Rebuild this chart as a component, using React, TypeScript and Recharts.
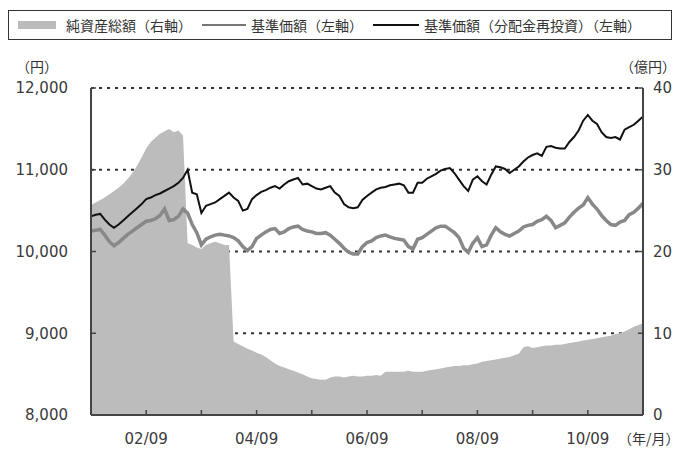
import React from 'react';
import { ComposedChart, Area, Line, XAxis, YAxis, CartesianGrid } from 'recharts';

// monthly points, starting 2001/09 (index 0) through 2011/09 (index 120)
// 純資産総額 (億円, right axis)
const netAssets = [
  25.7, 26.0, 26.3, 26.6, 27.0, 27.4, 27.8, 28.3, 28.9, 29.6,
  30.5, 31.5, 32.6, 33.4, 33.9, 34.4, 34.7, 35.0, 34.6, 34.8,
  34.2, 21.0, 20.8, 20.5, 20.3, 20.8, 21.0, 21.2, 21.0, 20.8,
  20.8, 9.0, 8.7, 8.4, 8.1, 7.9, 7.6, 7.4, 7.1, 6.7,
  6.3, 6.0, 5.8, 5.6, 5.4, 5.2, 5.0, 4.7, 4.5, 4.4,
  4.3, 4.3, 4.6, 4.7, 4.7, 4.6, 4.7, 4.8, 4.7, 4.7,
  4.8, 4.8, 4.9, 4.8, 5.3, 5.3, 5.3, 5.3, 5.3, 5.4,
  5.3, 5.3, 5.3, 5.4, 5.5, 5.6, 5.7, 5.8, 5.9, 6.0,
  6.0, 6.1, 6.1, 6.2, 6.3, 6.5, 6.6, 6.7, 6.8, 6.9,
  7.0, 7.1, 7.3, 7.5, 8.3, 8.4, 8.2, 8.3, 8.4, 8.5,
  8.5, 8.6, 8.6, 8.7, 8.8, 8.9, 9.0, 9.1, 9.2, 9.3,
  9.4, 9.5, 9.6, 9.7, 9.9, 10.0, 10.2, 10.5, 10.8, 11.0,
  11.2,
];

// 基準価額 (円, left axis)
const basePrice = [
  10250, 10260, 10270, 10200, 10120, 10070, 10110, 10160, 10210, 10250,
  10290, 10330, 10370, 10380, 10400, 10440, 10520, 10380, 10390, 10430,
  10520, 10470, 10330, 10230, 10080, 10150, 10180, 10200, 10210, 10200,
  10190, 10170, 10130, 10060, 10010, 10060, 10160, 10200, 10240, 10270,
  10280, 10220, 10240, 10280, 10300, 10310, 10270, 10250, 10240, 10220,
  10220, 10230, 10200, 10150, 10100, 10040, 9990, 9970, 9970, 10060,
  10110, 10130, 10170, 10190, 10200, 10180, 10160, 10150, 10140, 10060,
  10030, 10150, 10170, 10210, 10250, 10290, 10310, 10310, 10270, 10230,
  10170, 10040, 9990, 10100, 10170, 10060, 10080, 10200, 10290, 10240,
  10210, 10190, 10220, 10250, 10300, 10320, 10330, 10370, 10390, 10430,
  10380, 10290, 10320, 10350, 10420, 10480, 10530, 10570, 10660, 10580,
  10520, 10440, 10380, 10330, 10320, 10360, 10380, 10450, 10480, 10530,
  10590,
];

// 基準価額(分配金再投資) (円, left axis)
const reinvestPrice = [
  10430, 10450, 10460, 10390, 10330, 10290, 10330, 10380, 10430, 10480,
  10530, 10580, 10640, 10660, 10690, 10710, 10740, 10770, 10800, 10840,
  10900, 11000, 10720, 10700, 10470, 10560, 10580, 10600, 10640, 10680,
  10720, 10660, 10620, 10500, 10520, 10640, 10690, 10730, 10750, 10780,
  10800, 10770, 10820, 10860, 10880, 10900, 10820, 10830, 10800, 10770,
  10760, 10780, 10800, 10720, 10680, 10580, 10540, 10530, 10540, 10630,
  10680, 10720, 10760, 10780, 10790, 10810, 10820, 10830, 10810, 10720,
  10720, 10840, 10840, 10890, 10920, 10950, 10990, 11010, 11020, 10960,
  10880, 10800, 10740, 10880, 10920, 10860, 10820, 10940, 11040, 11030,
  11010, 10960, 11000, 11040, 11100, 11150, 11180, 11200, 11170, 11280,
  11290, 11270, 11260, 11260, 11340, 11400, 11480, 11600, 11670, 11600,
  11560, 11460, 11400, 11390, 11400, 11370, 11490, 11520, 11550, 11600,
  11650,
];

const xTicks = [12, 24, 36, 48, 60, 72, 84, 96, 108];
const xTickLabels = ['02/09', '', '04/09', '', '06/09', '', '08/09', '', '10/09'];
const leftTicks = [8000, 9000, 10000, 11000, 12000];
const rightTicks = [0, 10, 20, 30, 40];

const data = basePrice.map((v, i) => ({
  m: i,
  assets: netAssets[i],
  base: v,
  reinvest: reinvestPrice[i],
}));

const numFont = { fontFamily: 'DejaVu Sans', fontSize: 15, fill: '#3a3a3a' };
const jpFont = "'Noto Sans CJK JP', sans-serif";

const App: React.FC = () => {
  return (
    <div style={{ position: 'absolute', left: 0, top: 0, width: 679, height: 453, background: '#fff' }}>
      {/* legend box */}
      <div
        style={{
          position: 'absolute', left: 8, top: 10, width: 662, height: 28,
          border: '1.5px solid #333', display: 'flex', alignItems: 'center',
          fontFamily: jpFont, fontSize: 14, color: '#333', whiteSpace: 'nowrap',
        }}
      >
        <span style={{ display: 'inline-block', width: 38, height: 8, background: '#bbb', marginLeft: 9, marginRight: 10 }} />
        <span>純資産総額（右軸）</span>
        <span style={{ display: 'inline-block', width: 44, height: 2, background: '#777', marginLeft: 10, marginRight: 5 }} />
        <span>基準価額（左軸）</span>
        <span style={{ display: 'inline-block', width: 46, height: 2, background: '#111', marginLeft: 10, marginRight: 5 }} />
        <span>基準価額（分配金再投資）（左軸）</span>
      </div>

      <div style={{ position: 'absolute', left: 16, top: 56, fontFamily: jpFont, fontSize: 14, color: '#333' }}>（円）</div>
      <div style={{ position: 'absolute', left: 620, top: 56, fontFamily: jpFont, fontSize: 14, color: '#333' }}>（億円）</div>
      <div style={{ position: 'absolute', left: 618, top: 428, fontFamily: jpFont, fontSize: 14, color: '#333' }}>（年/月）</div>

      <ComposedChart width={679} height={453} data={data} margin={{ top: 88, right: 0, bottom: 0, left: 0 }}>
        <CartesianGrid
          yAxisId="left"
          vertical={false}
          stroke="#333"
          strokeWidth={2}
          strokeDasharray="3 5"
        />
        <XAxis
          dataKey="m"
          type="number"
          domain={[0, 120]}
          ticks={xTicks}
          tickFormatter={(v: number) => xTickLabels[xTicks.indexOf(v)] ?? ''}
          height={38}
          axisLine={{ stroke: '#444', strokeWidth: 2 }}
          tickLine={{ stroke: '#444', strokeWidth: 1.5 }}
          tickSize={-5}
          tickMargin={23}
          tick={numFont}
          interval={0}
        />
        <YAxis
          yAxisId="left"
          domain={[8000, 12000]}
          ticks={leftTicks}
          width={91}
          tickFormatter={(v: number) => v.toLocaleString('en-US')}
          axisLine={{ stroke: '#444', strokeWidth: 2 }}
          tickLine={{ stroke: '#444', strokeWidth: 1.5 }}
          tickSize={-5}
          tickMargin={28}
          tick={numFont}
          interval={0}
        />
        <YAxis
          yAxisId="right"
          orientation="right"
          domain={[0, 40]}
          ticks={rightTicks}
          width={36}
          axisLine={{ stroke: '#444', strokeWidth: 2 }}
          tickLine={{ stroke: '#444', strokeWidth: 1.5 }}
          tickSize={-5}
          tickMargin={15}
          tick={numFont}
          interval={0}
        />
        <Area
          yAxisId="right"
          type="linear"
          dataKey="assets"
          stroke="none"
          fill="#bcbcbc"
          fillOpacity={1}
          isAnimationActive={false}
        />
        <Line
          yAxisId="left"
          type="linear"
          dataKey="base"
          stroke="#888"
          strokeWidth={3.5}
          dot={false}
          isAnimationActive={false}
        />
        <Line
          yAxisId="left"
          type="linear"
          dataKey="reinvest"
          stroke="#111"
          strokeWidth={2}
          dot={false}
          isAnimationActive={false}
        />
      </ComposedChart>
    </div>
  );
};

export default App;
